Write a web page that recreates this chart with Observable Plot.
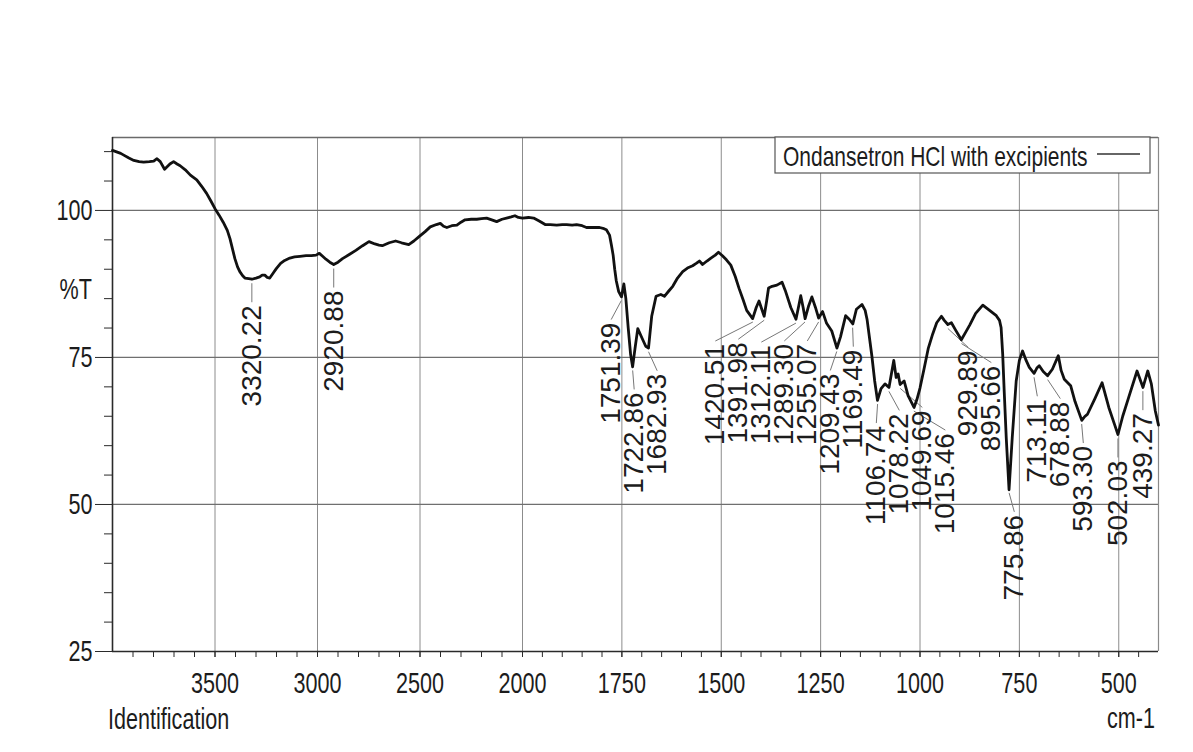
<!DOCTYPE html>
<html>
<head>
<meta charset="utf-8">
<script src="https://cdn.jsdelivr.net/npm/d3@7"></script>
<script src="https://cdn.jsdelivr.net/npm/@observablehq/plot@0.6"></script>
<style>
  html, body { margin: 0; padding: 0; background: #fff; }
  #chart { width: 1193px; height: 752px; }
</style>
</head>
<body>
<div id="chart"></div>
<script>
// FTIR spectrum: wavenumber (cm-1) and transmittance (%T)
const wavenumber = [
  4000, 3960, 3945, 3920, 3896, 3870, 3848, 3820, 3799, 3783, 3767, 3746, 3720, 3702, 3685, 3670,
  3645, 3620, 3589, 3565, 3541, 3520, 3500, 3480, 3460, 3440, 3427, 3415, 3403, 3390, 3379, 3365,
  3354, 3335, 3320, 3300, 3282, 3270, 3257, 3245, 3233, 3215, 3201, 3180, 3160, 3135, 3112, 3085,
  3056, 3030, 3007, 2991, 2975, 2959, 2940, 2921, 2900, 2878, 2845, 2813, 2780, 2749, 2720, 2700,
  2684, 2650, 2619, 2590, 2555, 2530, 2506, 2475, 2450, 2420, 2401, 2385, 2369, 2345, 2320, 2300,
  2280, 2250, 2223, 2200, 2175, 2150, 2126, 2100, 2078, 2055, 2037, 2020, 2000, 1985, 1972, 1958,
  1943, 1930, 1914, 1900, 1889, 1875, 1864, 1850, 1839, 1820, 1806, 1795, 1789, 1781, 1776, 1772,
  1768, 1764, 1758, 1751, 1745, 1740, 1734, 1728, 1723, 1717, 1710, 1700, 1690, 1683, 1675, 1664,
  1652, 1643, 1632, 1622, 1610, 1597, 1585, 1572, 1563, 1555, 1547, 1536, 1526, 1515, 1507, 1497,
  1487, 1476, 1465, 1455, 1445, 1436, 1421, 1412, 1405, 1398, 1392, 1386, 1381, 1372, 1360, 1347,
  1339, 1325, 1312, 1305, 1300, 1294, 1289, 1280, 1272, 1263, 1255, 1245, 1235, 1222, 1209, 1200,
  1187, 1178, 1169, 1160, 1146, 1138, 1133, 1121, 1114, 1107, 1098, 1088, 1078, 1066, 1060, 1055,
  1050, 1040, 1030, 1015, 1008, 1000, 990, 979, 968, 958, 946, 939, 930, 921, 910, 896,
  885, 875, 860, 842, 825, 808, 800, 796, 792, 788, 783, 776, 768, 758, 750, 742,
  733, 725, 713, 706, 700, 690, 679, 667, 652, 645, 637, 621, 610, 593, 585, 579,
  560, 542, 525, 510, 502, 490, 475, 454, 439, 427, 418, 408, 400
];
const transmittance = [
  110.2, 109.7, 109.4, 108.9, 108.5, 108.3, 108.2, 108.3, 108.4, 108.8, 108.3, 107.0, 107.9, 108.3, 107.9, 107.6,
  106.9, 106.0, 105.2, 104.1, 102.9, 101.6, 100.3, 99.2, 98.0, 96.6, 95.2, 93.5, 91.8, 90.4, 89.6, 88.9,
  88.5, 88.4, 88.3, 88.5, 88.7, 89.0, 89.0, 88.6, 88.5, 89.4, 90.1, 91.0, 91.5, 91.9, 92.1, 92.2,
  92.3, 92.3, 92.4, 92.7, 92.2, 91.7, 91.2, 90.8, 91.2, 91.8, 92.5, 93.2, 94.0, 94.7, 94.3, 94.1,
  94.0, 94.5, 94.8, 94.5, 94.2, 94.8, 95.5, 96.4, 97.2, 97.6, 97.8, 97.3, 97.1, 97.4, 97.5, 98.0,
  98.4, 98.5, 98.5, 98.6, 98.7, 98.4, 98.1, 98.5, 98.7, 98.9, 99.1, 98.8, 98.7, 98.8, 98.7, 98.2,
  97.6, 97.6, 97.5, 97.6, 97.6, 97.5, 97.6, 97.4, 97.1, 97.1, 97.1, 96.9, 96.7, 95.8, 94.0, 92.4,
  90.0, 88.0, 86.2, 85.3, 87.5, 85.0, 80.0, 75.5, 73.4, 76.5, 79.9, 78.4, 76.9, 76.6, 82.0, 85.4,
  85.7, 85.4, 86.3, 87.1, 88.5, 89.6, 90.2, 90.6, 91.0, 91.4, 90.8, 91.4, 91.9, 92.4, 92.9, 92.3,
  91.6, 90.7, 88.8, 86.7, 84.8, 83.0, 81.6, 83.5, 84.6, 83.2, 82.0, 84.5, 86.8, 87.1, 87.3, 87.8,
  86.4, 83.5, 81.5, 83.8, 85.5, 83.5, 81.6, 83.8, 85.3, 83.5, 81.7, 82.8, 80.8, 79.5, 76.6, 78.5,
  82.1, 81.5, 80.7, 83.2, 84.0, 83.0, 81.4, 75.2, 71.0, 67.7, 69.7, 70.5, 69.9, 74.5, 71.6, 72.2,
  70.4, 71.0, 68.5, 66.5, 67.8, 69.8, 73.0, 76.6, 79.0, 80.9, 82.0, 81.3, 80.6, 80.9, 79.6, 78.0,
  79.3, 80.5, 82.5, 83.9, 83.0, 82.1, 81.3, 80.1, 75.6, 69.0, 61.3, 52.5, 61.3, 71.0, 74.5, 76.1,
  74.5, 73.3, 72.3, 73.2, 73.6, 72.6, 71.9, 73.0, 75.3, 72.8, 71.3, 70.2, 67.5, 64.3, 65.0, 65.3,
  68.0, 70.7, 66.5, 63.5, 61.9, 65.0, 68.2, 72.7, 69.9, 72.7, 70.5, 65.9, 63.5
];
// Picked absorption bands (cm-1)
const peakWavenumbers = [
  3320.22, 2920.88, 1751.39, 1722.86, 1682.93, 1420.51, 1391.98, 1312.11, 1289.30, 1255.07,
  1209.43, 1169.49, 1106.74, 1078.22, 1049.69, 1015.46, 929.89, 895.66, 775.86, 713.11,
  678.88, 593.30, 502.03, 439.27
];
const xTicks = [3500, 3000, 2500, 2000, 1750, 1500, 1250, 1000, 750, 500];
const yTicks = [25, 50, 75, 100];
const yGrid = [50, 75, 100];
const seriesName = "Ondansetron HCl with excipients";
const yTitle = "%T";
const xTitle = "cm-1";
const footer = "Identification";

// ---- layout ----
const W = 1193, H = 752;
const mTop = 137, mRight = 35, mBottom = 101, mLeft = 112;
const xBreak = 522;            // the wavenumber axis doubles its scale at 2000 cm-1
const yMax = 112.4;
const narrow = 0.72;           // horizontal squeeze of the condensed axis lettering
const font = "'Liberation Sans', Arial, sans-serif";

const xOpts = {type: "linear", domain: [4000, 2000, 400], range: [mLeft, xBreak, W - mRight], label: null};
const yOpts = {type: "linear", domain: [25, yMax], range: [H - mBottom, mTop], label: null};
const xs = Plot.scale({x: xOpts});
const ys = Plot.scale({y: yOpts});

const spectrum = wavenumber.map((w, i) => ({wn: w, t: transmittance[i]}));

// transmittance at any wavenumber, by linear interpolation along the trace
function tAt(w) {
  for (let i = 0; i < wavenumber.length - 1; i++) {
    const a = wavenumber[i], b = wavenumber[i + 1];
    if (w <= a && w >= b) {
      const f = (a - w) / (a - b);
      return transmittance[i] + f * (transmittance[i + 1] - transmittance[i]);
    }
  }
  return transmittance[transmittance.length - 1];
}

// spread label positions so neighbours are at least `gap` px apart, staying close to their peaks
function spread(targets, gap) {
  const blocks = [];
  targets.forEach((t, i) => {
    blocks.push({sum: t - i * gap, n: 1});
    while (blocks.length > 1) {
      const b = blocks[blocks.length - 1], a = blocks[blocks.length - 2];
      if (a.sum / a.n <= b.sum / b.n) break;
      a.sum += b.sum; a.n += b.n; blocks.pop();
    }
  });
  const out = [];
  blocks.forEach(b => { for (let k = 0; k < b.n; k++) out.push(b.sum / b.n + out.length * gap); });
  return out;
}

const labelGap = 26;  // px between a band and the top of its label
const peaks = peakWavenumbers.map(w => ({wn: w, t: tAt(w), label: w.toFixed(2)}));
const px = spread(peaks.map(p => xs.apply(p.wn)), 23);
peaks.forEach((p, i) => {
  p.lx = xs.invert(px[i]);
  const py = ys.apply(p.t);
  p.y1 = ys.invert(py + 4);
  p.y2 = ys.invert(py + labelGap - 3);
});

const minorX = d3.range(2100, 4000, 100).concat(d3.range(450, 2000, 50));
const minorY = d3.range(30, yMax, 5).filter(v => v % 25 !== 0);

const chart = Plot.plot({
  width: W, height: H,
  marginTop: mTop, marginRight: mRight, marginBottom: mBottom, marginLeft: mLeft,
  x: xOpts, y: yOpts,
  style: {fontFamily: font, background: "#fff", color: "#1c1c1c"},
  marks: [
    Plot.gridX(xTicks, {stroke: "#8c8c8c", strokeOpacity: 1, strokeWidth: 1}),
    Plot.gridY(yGrid, {stroke: "#6f6f6f", strokeOpacity: 1, strokeWidth: 1.2}),
    Plot.ruleY([yMax], {stroke: "#6a6a6a", strokeWidth: 1.4}),
    Plot.ruleX([400], {stroke: "#8a8a8a", strokeWidth: 1.2}),
    Plot.axisX(minorX, {tickSize: 6, tickFormat: () => "", stroke: "#2a2a2a", label: null}),
    Plot.axisX(xTicks, {tickSize: 6, tickPadding: 14, fontSize: 30, tickFormat: d => String(d), stroke: "#2a2a2a", label: null}),
    Plot.axisY(minorY, {tickSize: 8, tickFormat: () => "", stroke: "#2a2a2a", label: null}),
    Plot.axisY(yTicks, {tickSize: 17, tickPadding: 3, fontSize: 30, stroke: "#2a2a2a", label: null}),
    Plot.ruleX([4000], {stroke: "#2a2a2a", strokeWidth: 1.6}),
    Plot.ruleY([25], {stroke: "#2a2a2a", strokeWidth: 1.6}),
    Plot.link(peaks, {x1: "wn", y1: "y1", x2: "lx", y2: "y2", stroke: "#777", strokeWidth: 1}),
    Plot.line(spectrum, {x: "wn", y: "t", stroke: "#111", strokeWidth: 2.8, strokeLinejoin: "round", strokeLinecap: "round"}),
    Plot.text(peaks, {x: "lx", y: "t", dy: labelGap, text: "label", rotate: -90, textAnchor: "end",
      fontSize: 28, fill: "#1c1c1c"})
  ]
});

document.getElementById("chart").appendChild(chart);

// condensed look of the axis lettering
const svg = d3.select(chart);
function squeeze(sel, k) {
  sel.each(function () {
    const el = d3.select(this);
    const tr = el.attr("transform");
    if (tr) {
      el.attr("transform", tr + ` scale(${k},1)`);
    } else {
      const x = +el.attr("x") || 0, y = el.attr("y");
      el.attr("x", null);
      el.attr("transform", `translate(${x},0) scale(${k},1)`);
      if (y != null) el.attr("y", y);
    }
  });
}
squeeze(svg.selectAll('g[aria-label="x-axis tick label"] text'), narrow);
squeeze(svg.selectAll('g[aria-label="y-axis tick label"] text'), narrow);

// axis titles and footer
function addText(parent, str, x, y, anchor, size, k) {
  parent.append("text")
    .attr("transform", `translate(${x},${y}) scale(${k},1)`)
    .attr("text-anchor", anchor)
    .attr("font-family", font)
    .attr("font-size", size)
    .attr("fill", "#1c1c1c")
    .text(str);
}
addText(svg, yTitle, 92, 299, "end", 30, narrow);
addText(svg, footer, 108, 729, "start", 30, narrow);
addText(svg, xTitle, 1155, 728, "end", 30, narrow);

// legend box in the top-right corner of the frame
const lg = svg.append("g");
lg.append("rect").attr("x", 775).attr("y", mTop).attr("width", 375).attr("height", 36)
  .attr("fill", "#fff").attr("stroke", "#555").attr("stroke-width", 1.2);
addText(lg, seriesName, 783, 166, "start", 28, 0.75);
lg.append("line").attr("x1", 1097).attr("x2", 1140).attr("y1", 154).attr("y2", 154)
  .attr("stroke", "#333").attr("stroke-width", 1.3);
</script>
</body>
</html>
